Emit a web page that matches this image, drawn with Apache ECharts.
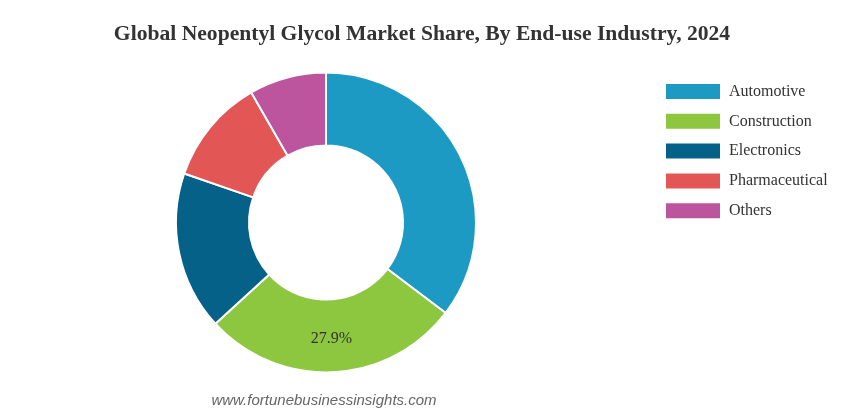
<!DOCTYPE html>
<html><head><meta charset="utf-8">
<script src="https://cdn.jsdelivr.net/npm/echarts@6/dist/echarts.min.js"></script>
<style>html,body{margin:0;padding:0;background:#fff}#c{width:841px;height:417px}</style>
</head><body><div id="c"></div>
<script>
const categories = ["Automotive", "Construction", "Electronics", "Pharmaceutical", "Others"];
const values = [35.3, 27.9, 17.1, 11.4, 8.3];
const colors = ["#1c9ac3", "#8dc63f", "#066188", "#e35656", "#bd559e"];
const labelShown = ["Construction"];

const chart = echarts.init(document.getElementById('c'));
chart.setOption({
  animation: false,
  color: colors,
  title: {
    text: "Global Neopentyl Glycol Market Share, By End-use Industry, 2024",
    left: 417, top: 18, textAlign: 'center',
    textStyle: {fontFamily: "Liberation Serif", fontSize: 21.6, fontWeight: 'bold', color: '#333'}
  },
  legend: {
    orient: 'vertical', left: 664, top: 82, padding: 0,
    itemWidth: 56, itemHeight: 17, itemGap: 10.8,
    icon: 'rect',
    textStyle: {fontFamily: "Liberation Serif", fontSize: 16, color: '#333', padding: [0,0,0,3]},
    data: categories
  },
  graphic: [{
    type: 'text', style: {
      text: "www.fortunebusinessinsights.com", x: 324, y: 401,
      textAlign: 'center', textVerticalAlign: 'middle',
      font: "italic 15px 'Liberation Sans'", fill: '#666'
    }
  }],
  series: [{
    type: 'pie',
    center: [326, 222.5],
    radius: [77, 150],
    startAngle: 90,
    clockwise: true,
    itemStyle: {borderColor: '#fff', borderWidth: 2},
    label: {show: false},
    labelLine: {show: false},
    data: categories.map((c, i) => ({
      name: c, value: values[i],
      label: labelShown.includes(c) ? {
        show: true, position: 'inside', formatter: v => v.value.toFixed(1) + '%',
        fontFamily: "Liberation Serif", fontSize: 16, color: '#333'
      } : {show: false}
    }))
  }]
});
</script></body></html>
